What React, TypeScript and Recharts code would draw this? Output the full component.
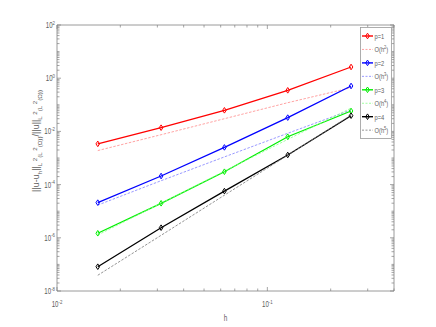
import React from 'react';
import { LineChart, Line, XAxis, YAxis, Legend } from 'recharts';

// ---- data ----
const hValues = [0.015625, 0.03125, 0.0625, 0.125, 0.25];
const errP1 = [3.4e-3, 1.38e-2, 6.2e-2, 0.35, 2.64];
const refH2 = [1.9e-3, 7.5e-3, 3.0e-2, 0.12, 0.44];
const errP2 = [2.1e-5, 2.1e-4, 2.5e-3, 3.3e-2, 0.51];
const refH3 = [1.7e-5, 1.4e-4, 1.1e-3, 8.5e-3, 6.4e-2];
const errP3 = [1.48e-6, 1.98e-5, 3.05e-4, 6.3e-3, 5.85e-2];
const refH4 = [1.27e-6, 2.0e-5, 3.2e-4, 5.0e-3, 7.5e-2];
const errP4 = [8.2e-8, 2.4e-6, 5.7e-5, 1.3e-3, 3.9e-2];
const refH5 = [3.9e-8, 1.24e-6, 4.0e-5, 1.27e-3, 4.1e-2];

const seriesKeys = ['p1', 'r2', 'p2', 'r3', 'p3', 'r4', 'p4', 'r5'];
const seriesLabels = ['p=1', 'O(h', 'p=2', 'O(h', 'p=3', 'O(h', 'p=4', 'O(h'];
const seriesSup = ['', '2', '', '3', '', '4', '', '5'];
const seriesColors = ['#ff0000', '#ff8a8a', '#0000ff', '#7f7fff', '#00ee00', '#88ff88', '#000000', '#777777'];
const seriesDashed = [false, true, false, true, false, true, false, true];
const seriesValues = [errP1, refH2, errP2, refH3, errP3, refH4, errP4, refH5];

const xDomain = [0.01, 0.4];
const yDomain = [1e-8, 1e2];
const xDecades = [-2, -1];
const yDecades = [-8, -7, -6, -5, -4, -3, -2, -1, 0, 1];
const yLabeledExps = [-8, -6, -4, -2, 0, 2];
const xLabeledExps = [-2, -1];

const data = hValues.map((h, i) => {
  const row: Record<string, number> = { h };
  seriesKeys.forEach((k, j) => {
    row[k] = seriesValues[j][i];
  });
  return row;
});

const xTicks: number[] = [];
xDecades.forEach((n) => {
  for (let k = 1; k <= 9; k++) {
    const v = k * Math.pow(10, n);
    if (v <= xDomain[1] + 1e-12) xTicks.push(v);
  }
});
const yTicks: number[] = [];
yDecades.forEach((n) => {
  for (let k = 1; k <= 9; k++) yTicks.push(k * Math.pow(10, n));
});
yTicks.push(100);

const AXIS = '#808080';
const TXT = '#606060';
const FONT = '"Liberation Sans", Arial, sans-serif';

const expOf = (v: number) => {
  const lg = Math.log10(v);
  const r = Math.round(lg);
  return Math.abs(lg - r) < 1e-6 ? r : null;
};

const TickText = ({ x, y, exp, anchor }: any) => (
  <g transform={`translate(${x},${y}) scale(0.72,1)`}>
    <text textAnchor={anchor} fontSize={8.5} fill={TXT} fontFamily={FONT}>
      10<tspan dy={-3.5} fontSize={6}>{exp}</tspan>
    </text>
  </g>
);

const BottomTick = (props: any) => {
  const { x, y, payload } = props;
  const e = expOf(payload.value);
  const major = e !== null && xLabeledExps.includes(e);
  const len = major ? 4 : 2.5;
  return (
    <g>
      <line x1={x} x2={x} y1={y} y2={y - len} stroke={AXIS} strokeWidth={0.7} />
      {major && <TickText x={x} y={y + 16} exp={e} anchor="middle" />}
    </g>
  );
};
const TopTick = (props: any) => {
  const { x, y, payload } = props;
  const e = expOf(payload.value);
  const major = e !== null && xLabeledExps.includes(e);
  const len = major ? 4 : 2.5;
  return <line x1={x} x2={x} y1={y} y2={y + len} stroke={AXIS} strokeWidth={0.7} />;
};
const LeftTick = (props: any) => {
  const { x, y, payload } = props;
  const e = expOf(payload.value);
  const major = e !== null && yLabeledExps.includes(e);
  const len = major ? 4 : 2.5;
  return (
    <g>
      <line x1={x} x2={x + len} y1={y} y2={y} stroke={AXIS} strokeWidth={0.7} />
      {major && <TickText x={x - 2} y={y + 3} exp={e} anchor="end" />}
    </g>
  );
};
const RightTick = (props: any) => {
  const { x, y, payload } = props;
  const e = expOf(payload.value);
  const major = e !== null && yLabeledExps.includes(e);
  const len = major ? 4 : 2.5;
  return <line x1={x} x2={x - len} y1={y} y2={y} stroke={AXIS} strokeWidth={0.7} />;
};

const Diamond = (props: any) => {
  const { cx, cy, stroke } = props;
  if (cx == null || cy == null) return null;
  const w = 1.8;
  const hh = 2.8;
  return (
    <polygon
      points={`${cx},${cy - hh} ${cx + w},${cy} ${cx},${cy + hh} ${cx - w},${cy}`}
      fill="none"
      stroke={stroke}
      strokeWidth={1}
    />
  );
};

const YLabel = (props: any) => {
  const vb = props.viewBox || { x: 0, y: 25, width: 57, height: 266 };
  const cx = 39;
  const cy = vb.y + vb.height / 2 - 17;
  const big = 9;
  const small = 6.2;
  return (
    <g transform={`rotate(-90, ${cx}, ${cy})`}>
      <text x={cx} y={cy} textAnchor="middle" fontSize={big} fill={TXT} fontFamily={FONT}>
        <tspan>||u-u</tspan>
        <tspan dy={2.5} fontSize={small}>h</tspan>
        <tspan dy={-2.5}>||</tspan>
        <tspan dy={2.5} fontSize={small}>L</tspan>
        <tspan dy={-4.5} fontSize={small}> 2</tspan>
        <tspan dy={4.5} fontSize={small}>(L</tspan>
        <tspan dy={-4.5} fontSize={small}> 2</tspan>
        <tspan dy={4.5} fontSize={small}>(Ω))</tspan>
        <tspan dy={-2.5}>/||u||</tspan>
        <tspan dy={2.5} fontSize={small}>L</tspan>
        <tspan dy={-4.5} fontSize={small}> 2</tspan>
        <tspan dy={4.5} fontSize={small}>(L</tspan>
        <tspan dy={-4.5} fontSize={small}> 2</tspan>
        <tspan dy={4.5} fontSize={small}>(Ω))</tspan>
      </text>
    </g>
  );
};

const XLabel = (props: any) => {
  const vb = props.viewBox || { x: 57, y: 291, width: 337, height: 0 };
  const cx = vb.x + vb.width / 2;
  return (
    <g transform={`translate(${cx},${vb.y + 30}) scale(0.72,1)`}>
      <text textAnchor="middle" fontSize={9} fill={TXT} fontFamily={FONT}>h</text>
    </g>
  );
};

const LegendBox = () => {
  const w = 32;
  const rowH = 13.45;
  const h = 112;
  return (
    <svg width={w} height={h} style={{ display: 'block' }}>
      <rect x={0.5} y={0.5} width={w - 1} height={h - 1} fill="#fff" stroke="#9a9a9a" strokeWidth={0.8} />
      {seriesKeys.map((k, i) => {
        const y = 9 + rowH * i;
        return (
          <g key={k}>
            <line
              x1={2}
              x2={13}
              y1={y}
              y2={y}
              stroke={seriesColors[i]}
              strokeWidth={seriesDashed[i] ? 0.8 : 1.4}
              strokeDasharray={seriesDashed[i] ? '2 1.5' : undefined}
            />
            {!seriesDashed[i] && <Diamond cx={7.5} cy={y} stroke={seriesColors[i]} />}
            <g transform={`translate(14.5,${y + 3}) scale(0.72,1)`}>
              <text fontSize={8} fill={TXT} fontFamily={FONT}>
                {seriesLabels[i]}
                {seriesSup[i] && (
                  <>
                    <tspan dy={-3.5} fontSize={5.5}>{seriesSup[i]}</tspan>
                    <tspan dy={3.5}>)</tspan>
                  </>
                )}
              </text>
            </g>
          </g>
        );
      })}
    </svg>
  );
};

export default function App() {
  return (
    <div style={{ position: 'absolute', left: 0, top: 0, width: 436, height: 327, background: '#fff' }}>
      <LineChart
        width={436}
        height={327}
        data={data}
        margin={{ top: 24, right: 41, bottom: 35, left: 0 }}
      >
        <XAxis
          dataKey="h"
          type="number"
          scale="log"
          domain={xDomain}
          allowDataOverflow
          ticks={xTicks}
          interval={0}
          height={1}
          tickSize={0}
          tickMargin={0}
          tick={<BottomTick />}
          axisLine={{ stroke: AXIS, strokeWidth: 0.8 }}
          label={<XLabel />}
        />
        <XAxis
          xAxisId="top"
          dataKey="h"
          orientation="top"
          type="number"
          scale="log"
          domain={xDomain}
          allowDataOverflow
          ticks={xTicks}
          interval={0}
          height={1}
          tickSize={0}
          tickMargin={0}
          tick={<TopTick />}
          axisLine={{ stroke: AXIS, strokeWidth: 0.8 }}
        />
        <YAxis
          type="number"
          scale="log"
          domain={yDomain}
          allowDataOverflow
          ticks={yTicks}
          interval={0}
          width={57}
          tickSize={0}
          tickMargin={0}
          tick={<LeftTick />}
          axisLine={{ stroke: AXIS, strokeWidth: 0.8 }}
          label={<YLabel />}
        />
        <YAxis
          yAxisId="right"
          orientation="right"
          type="number"
          scale="log"
          domain={yDomain}
          allowDataOverflow
          ticks={yTicks}
          interval={0}
          width={1}
          tickSize={0}
          tickMargin={0}
          tick={<RightTick />}
          axisLine={{ stroke: AXIS, strokeWidth: 0.8 }}
        />
        {seriesKeys.map((k, i) => (
          <Line
            key={k}
            dataKey={k}
            name={k}
            type="linear"
            stroke={seriesColors[i]}
            strokeWidth={seriesDashed[i] ? 0.8 : 1.3}
            strokeDasharray={seriesDashed[i] ? '2.5 1.5' : undefined}
            dot={seriesDashed[i] ? false : <Diamond />}
            activeDot={false}
            isAnimationActive={false}
          />
        ))}
        <Legend
          layout="vertical"
          align="center"
          verticalAlign="middle"
          content={<LegendBox />}
          wrapperStyle={{ left: 360, top: 27, width: 32, height: 112 }}
        />
      </LineChart>
    </div>
  );
}
